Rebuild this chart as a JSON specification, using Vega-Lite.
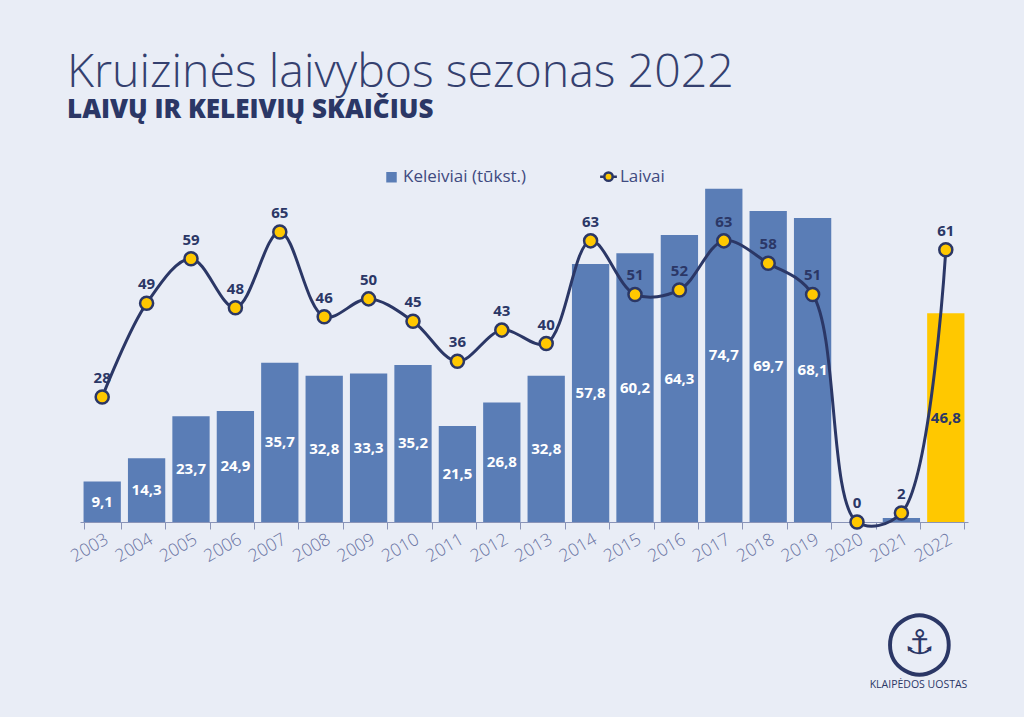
{
  "$schema": "https://vega.github.io/schema/vega-lite/v6.json",
  "autosize": "none",
  "width": 888,
  "height": 357,
  "padding": {"left": 80, "top": 165, "right": 56, "bottom": 195},
  "background": "#e9edf6",
  "config": {
    "view": {"stroke": null},
    "locale": {"number": {"decimal": ",", "thousands": " ", "grouping": [3], "currency": ["", " €"]}}
  },
  "title": {
    "text": "Kruizinės laivybos sezonas 2022",
    "subtitle": "LAIVŲ IR KELEIVIŲ SKAIČIUS",
    "anchor": "start",
    "frame": "group",
    "dx": -13,
    "offset": 42,
    "font": "Open Sans",
    "fontSize": 46.5,
    "fontWeight": 300,
    "color": "#34406f",
    "subtitleFont": "Open Sans",
    "subtitleFontSize": 26,
    "subtitleFontWeight": 800,
    "subtitleColor": "#2b3766",
    "subtitlePadding": 1
  },
  "data": {
    "values": [
      {"year": "2003", "kel": 9.1, "laivai": 28, "grp": "Keleiviai (tūkst.)"},
      {"year": "2004", "kel": 14.3, "laivai": 49, "grp": "Keleiviai (tūkst.)"},
      {"year": "2005", "kel": 23.7, "laivai": 59, "grp": "Keleiviai (tūkst.)"},
      {"year": "2006", "kel": 24.9, "laivai": 48, "grp": "Keleiviai (tūkst.)"},
      {"year": "2007", "kel": 35.7, "laivai": 65, "grp": "Keleiviai (tūkst.)"},
      {"year": "2008", "kel": 32.8, "laivai": 46, "grp": "Keleiviai (tūkst.)"},
      {"year": "2009", "kel": 33.3, "laivai": 50, "grp": "Keleiviai (tūkst.)"},
      {"year": "2010", "kel": 35.2, "laivai": 45, "grp": "Keleiviai (tūkst.)"},
      {"year": "2011", "kel": 21.5, "laivai": 36, "grp": "Keleiviai (tūkst.)"},
      {"year": "2012", "kel": 26.8, "laivai": 43, "grp": "Keleiviai (tūkst.)"},
      {"year": "2013", "kel": 32.8, "laivai": 40, "grp": "Keleiviai (tūkst.)"},
      {"year": "2014", "kel": 57.8, "laivai": 63, "grp": "Keleiviai (tūkst.)"},
      {"year": "2015", "kel": 60.2, "laivai": 51, "grp": "Keleiviai (tūkst.)"},
      {"year": "2016", "kel": 64.3, "laivai": 52, "grp": "Keleiviai (tūkst.)"},
      {"year": "2017", "kel": 74.7, "laivai": 63, "grp": "Keleiviai (tūkst.)"},
      {"year": "2018", "kel": 69.7, "laivai": 58, "grp": "Keleiviai (tūkst.)"},
      {"year": "2019", "kel": 68.1, "laivai": 51, "grp": "Keleiviai (tūkst.)"},
      {"year": "2020", "kel": 0, "laivai": 0, "grp": "Keleiviai (tūkst.)"},
      {"year": "2021", "kel": 0.9, "laivai": 2, "grp": "Keleiviai (tūkst.)"},
      {"year": "2022", "kel": 46.8, "laivai": 61, "grp": "2022"}
    ]
  },
  "encoding": {
    "x": {
      "field": "year",
      "type": "ordinal",
      "sort": null,
      "scale": {"paddingInner": 0.16, "paddingOuter": 0.08},
      "axis": {
        "labelAngle": -30,
        "labelFont": "Open Sans",
        "labelFontSize": 17.5,
        "labelFontWeight": 300,
        "labelColor": "#6a74a3",
        "labelPadding": 1,
        "domainColor": "#8a94b8",
        "tickColor": "#8a94b8",
        "tickSize": 7,
        "tickBand": "extent",
        "title": "KLAIPĖDOS UOSTAS",
        "titleX": 838,
        "titleY": 162,
        "titleAlign": "center",
        "titleBaseline": "middle",
        "titleFont": "Open Sans",
        "titleFontSize": 10.5,
        "titleFontWeight": 500,
        "titleColor": "#2b3766"
      }
    }
  },
  "layer": [
    {
      "mark": {"type": "bar"},
      "encoding": {
        "y": {
          "field": "kel",
          "type": "quantitative",
          "scale": {"domain": [0, 80]},
          "axis": {
            "orient": "left",
            "domain": false,
            "ticks": false,
            "labels": false,
            "grid": false,
            "title": "⚓",
            "titleAngle": 0,
            "titleX": 839,
            "titleY": 478,
            "titleAlign": "center",
            "titleBaseline": "middle",
            "titleFont": "DejaVu Sans",
            "titleFontSize": 34,
            "titleFontWeight": "bold",
            "titleColor": "#2b3766"
          }
        },
        "color": {
          "field": "grp",
          "type": "nominal",
          "scale": {"domain": ["Keleiviai (tūkst.)", "Laivai", "2022"], "range": ["#5a7db6", "#ffc800", "#ffc800"]},
          "legend": {
            "orient": "none",
            "legendX": 303,
            "legendY": 3,
            "direction": "horizontal",
            "title": null,
            "values": ["Keleiviai (tūkst.)", "Laivai"],
            "symbolSize": 110,
            "symbolType": "square",
            "symbolStrokeWidth": 0,
            "labelFont": "Open Sans",
            "labelFontSize": 17,
            "labelColor": "#3f4a80",
            "labelOffset": 3,
            "columnPadding": 68,
            "encode": {
              "symbols": {
                "update": {
                  "shape": {"signal": "datum.value === 'Laivai' ? 'M-1.6,0H-0.8M0.8,0H1.6M0.8,0A0.8,0.8 0 1,1 -0.8,0A0.8,0.8 0 1,1 0.8,0Z' : 'square'"},
                  "stroke": {"value": "#2b3766"},
                  "strokeWidth": {"signal": "datum.value === 'Laivai' ? 2.5 : 0"}
                }
              }
            }
          }
        }
      }
    },
    {
      "transform": [{"filter": "datum.kel > 5"}],
      "mark": {"type": "text", "font": "Open Sans", "fontSize": 15, "fontWeight": 700, "baseline": "middle"},
      "encoding": {
        "y": {"field": "kel", "type": "quantitative", "scale": {"domain": [0, 160]}, "axis": null},
        "text": {"field": "kel", "type": "quantitative", "format": ".1f"},
        "color": {"condition": {"test": "datum.year === '2022'", "value": "#2b3766"}, "value": "#ffffff"}
      }
    },
    {
      "mark": {"type": "line", "interpolate": "catmull-rom", "color": "#2b3766", "strokeWidth": 3},
      "encoding": {
        "y": {
          "field": "laivai",
          "type": "quantitative",
          "scale": {"domain": [0, 80]},
          "axis": {
            "orient": "left",
            "domain": false,
            "ticks": false,
            "labels": false,
            "grid": false,
            "title": "◯",
            "titleAngle": 0,
            "titleX": 839,
            "titleY": 476,
            "titleAlign": "center",
            "titleBaseline": "middle",
            "titleFont": "DejaVu Sans",
            "titleFontSize": 62,
            "titleFontWeight": "bold",
            "titleColor": "#2b3766"
          }
        }
      }
    },
    {
      "mark": {"type": "point", "filled": true, "fill": "#ffc800", "stroke": "#2b3766", "strokeWidth": 2.5, "size": 170, "opacity": 1},
      "encoding": {
        "y": {"field": "laivai", "type": "quantitative", "scale": {"domain": [0, 80]}, "axis": null}
      }
    },
    {
      "mark": {"type": "text", "font": "Open Sans", "fontSize": 15, "fontWeight": 700, "color": "#2b3766", "dy": -19},
      "encoding": {
        "y": {"field": "laivai", "type": "quantitative", "scale": {"domain": [0, 80]}, "axis": null},
        "text": {"field": "laivai", "type": "quantitative"}
      }
    }
  ],
  "resolve": {"scale": {"y": "independent"}}
}
